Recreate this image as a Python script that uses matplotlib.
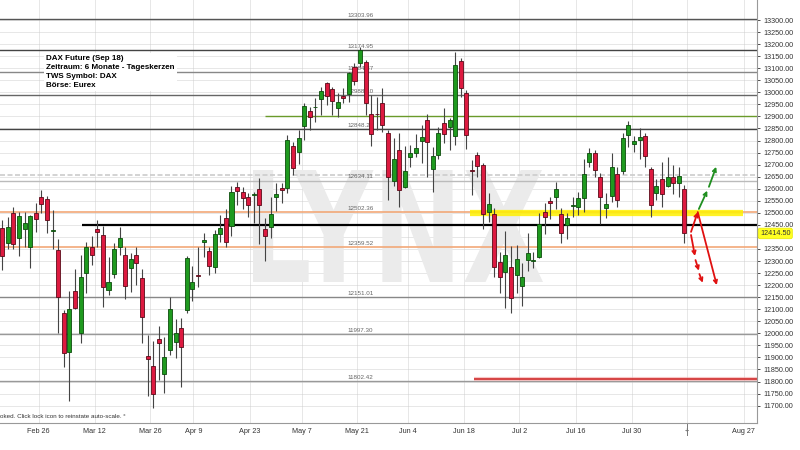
import numpy as np
import matplotlib
matplotlib.use("Agg")
import matplotlib.pyplot as plt
from matplotlib.textpath import TextPath
from matplotlib.font_manager import FontProperties
from matplotlib.patches import PathPatch
from matplotlib.transforms import Affine2D, blended_transform_factory

plt.rcParams["font.family"] = ["Liberation Sans", "DejaVu Sans"]

# daily candles, DAX future Sep 18
opens = [12436, 12373, 12501, 12394, 12434, 12360, 12501, 12564, 12556, 12425,
         12346, 12083, 11924, 12177, 12000, 12249, 12357, 12433, 12409, 12180,
         12246, 12360, 12325, 12270, 12325, 12228, 11907, 11864, 11975, 11830,
         11931, 11965, 12021, 12097, 12182, 12239, 12377, 12341, 12277, 12411,
         12480, 12445, 12606, 12588, 12564, 12574, 12598, 12431, 12440, 12564,
         12602, 12602, 12777, 12754, 12860, 12922, 12937, 12972, 13037, 13012,
         12934, 12985, 12993, 13106, 13123, 13127, 12908, 12910, 12957, 12830,
         12633, 12761, 12606, 12730, 12750, 12799, 12885, 12680, 12740, 12874,
         12855, 12819, 13131, 12996, 12675, 12740, 12698, 12505, 12494, 12297,
         12256, 12274, 12242, 12198, 12304, 12300, 12315, 12505, 12550, 12567,
         12495, 12450, 12528, 12526, 12560, 12709, 12747, 12647, 12519, 12570,
         12661, 12675, 12823, 12784, 12802, 12819, 12680, 12581, 12639, 12611,
         12647, 12622, 12598]
highs = [12470, 12484, 12523, 12505, 12505, 12491, 12542, 12595, 12570, 12512,
         12390, 12097, 12177, 12268, 12325, 12380, 12404, 12470, 12445, 12318,
         12373, 12443, 12357, 12332, 12357, 12266, 11993, 11970, 12030, 11986,
         12152, 12058, 12065, 12321, 12279, 12360, 12415, 12360, 12429, 12491,
         12514, 12611, 12629, 12609, 12584, 12588, 12643, 12477, 12567, 12622,
         12622, 12823, 12795, 12844, 12954, 12938, 12975, 13023, 13044, 13023,
         12999, 13017, 13086, 13120, 13187, 13134, 12989, 12982, 13017, 12844,
         12809, 12830, 12777, 12781, 12826, 12864, 12908, 12775, 12855, 12934,
         12892, 13169, 13141, 13010, 12719, 12754, 12705, 12584, 12519, 12339,
         12426, 12363, 12367, 12293, 12415, 12339, 12498, 12542, 12567, 12629,
         12519, 12501, 12567, 12588, 12722, 12768, 12761, 12664, 12584, 12747,
         12692, 12830, 12882, 12819, 12850, 12830, 12692, 12639, 12712, 12730,
         12698, 12692, 12615]
lows = [12263, 12348, 12348, 12321, 12359, 12270, 12422, 12498, 12415, 12351,
        12000, 11862, 11721, 12099, 11958, 12169, 12283, 12357, 12110, 12159,
        12228, 12325, 12141, 12173, 12200, 11958, 11740, 11689, 11806, 11754,
        11910, 11896, 11776, 12083, 12135, 12193, 12318, 12242, 12249, 12380,
        12360, 12404, 12532, 12515, 12484, 12456, 12371, 12301, 12394, 12509,
        12542, 12584, 12657, 12701, 12802, 12844, 12878, 12906, 12947, 12906,
        12899, 12954, 12961, 13030, 13106, 12906, 12777, 12844, 12837, 12553,
        12611, 12523, 12602, 12689, 12730, 12705, 12650, 12588, 12722, 12791,
        12761, 12781, 12982, 12763, 12574, 12650, 12432, 12463, 12235, 12169,
        12104, 12086, 12166, 12113, 12260, 12270, 12311, 12412, 12473, 12515,
        12373, 12390, 12481, 12491, 12505, 12689, 12650, 12454, 12477, 12546,
        12523, 12661, 12775, 12754, 12722, 12692, 12484, 12553, 12526, 12606,
        12578, 12567, 12376]
closes = [12321, 12443, 12371, 12487, 12459, 12487, 12473, 12535, 12470, 12429,
          12152, 11917, 12102, 12105, 12235, 12357, 12325, 12422, 12193, 12212,
          12350, 12397, 12198, 12307, 12293, 12069, 11892, 11747, 11961, 11903,
          12102, 12003, 11945, 12311, 12212, 12236, 12387, 12281, 12411, 12436,
          12380, 12588, 12591, 12560, 12532, 12580, 12532, 12404, 12494, 12578,
          12595, 12802, 12685, 12809, 12943, 12899, 12938, 13005, 12985, 12964,
          12961, 12976, 13082, 13048, 13175, 12957, 12827, 12908, 12864, 12647,
          12722, 12595, 12675, 12750, 12770, 12813, 12795, 12736, 12830, 12827,
          12885, 13113, 13017, 12823, 12672, 12694, 12495, 12537, 12274, 12233,
          12325, 12145, 12307, 12233, 12332, 12303, 12454, 12481, 12542, 12598,
          12415, 12477, 12530, 12560, 12661, 12747, 12678, 12564, 12537, 12692,
          12553, 12809, 12864, 12799, 12813, 12736, 12532, 12611, 12578, 12650,
          12622, 12653, 12414.5]

tick_pos = [6.5, 16.5, 26.4, 34.2, 44.3, 53.6, 63.5, 72.5, 82.5, 92.5, 102.6, 112.6, 122.5, 132.6]
tick_labels = ["Feb 26", "Mar 12", "Mar 26", "Apr 9", "Apr 23", "May 7", "May 21",
               "Jun 4", "Jun 18", "Jul 2", "Jul 16", "Jul 30", "+", "Aug 27"]

levels = [13303.96, 13174.95, 13084.87, 12988.10, 12848.21, 12634.11,
          12502.36, 12359.52, 12151.01, 11997.30, 11802.42]
level_colors = ["#555555", "#444444", "#888888", "#666666", "#444444", "#bbbbbb",
                "#f2a878", "#f2a878", "#888888", "#999999", "#999999"]

info_lines = ["DAX Future (Sep 18)", "Zeitraum: 6 Monate - Tageskerzen",
              "TWS Symbol: DAX", "Börse: Eurex"]
last_price = 12414.50

fig = plt.figure(figsize=(8, 4.5), dpi=100)
ax = fig.add_axes([0, 27 / 450, 757 / 800, 423 / 450])
ax.set_xlim(-0.41, 135.0)
ax.set_ylim(11628, 13383)

# grid and axes
ax.set_axisbelow(True)
yt = np.arange(11700, 13301, 50)
ax.set_yticks(yt)
# the 12400 label sits under the last-price tag
ax.set_yticklabels(["" if v == 12400 else f"{v:.2f}" for v in yt])
ax.set_xticks(tick_pos)
ax.set_xticklabels(tick_labels)
ax.grid(True, linestyle=(0, (1.2, 1.2)), color="#c8c8c8", linewidth=0.6)
ax.yaxis.tick_right()
ax.tick_params(axis="y", labelsize=5.2, colors="#333333", length=2.5, width=0.6, pad=2)
ax.tick_params(axis="x", labelsize=5.2, colors="#333333", length=0, pad=3.5)
for t in ax.yaxis.get_ticklines():
    t.set_color("#888888")
for s in ("top", "left"):
    ax.spines[s].set_visible(False)
for s in ("right", "bottom"):
    ax.spines[s].set_color("#999999")
    ax.spines[s].set_linewidth(0.8)
# cursor mark under the "+" tick
ax.plot([122.5, 122.5], [0, -12 / 423], color="#777777", lw=0.7,
        transform=blended_transform_factory(ax.transData, ax.transAxes), clip_on=False)

# LYNX watermark
tp = TextPath((0, 0), "LYNX", prop=FontProperties(family="DejaVu Sans", weight="bold"), size=1)
ext = tp.get_extents()
x0, x1 = 253 / 757, 543 / 757
y0, y1 = 1 - 282 / 423, 1 - 170 / 423
tr = Affine2D().translate(-ext.x0, -ext.y0).scale((x1 - x0) / ext.width, (y1 - y0) / ext.height).translate(x0, y0)
ax.add_patch(PathPatch(tr.transform_path(tp), transform=ax.transAxes, fc="#ebebeb", ec="none", zorder=0.8))

# horizontal level lines with small labels
xmin, xmax = ax.get_xlim()
for lv, col in zip(levels, level_colors):
    lw = 1.2 if col.startswith("#f2") else 1.0
    ax.axhline(lv, color=col, lw=lw, zorder=1.5)
    ax.text(61.7, lv + 9, f"{lv:.2f}", fontsize=4.5, color="#666666", zorder=1.6)
ax.axhline(12657, color="#cccccc", lw=1.2, ls=(0, (3, 1.5)), zorder=1.4)
ax.hlines(12900, 47, xmax, color="#6a9a2a", lw=1.0, zorder=1.5)
ax.hlines(12450, 14.3, xmax, color="black", lw=1.6, zorder=1.6)
ax.hlines(12500, 83.7, 132.5, color="#fff000", lw=4.5, alpha=0.85, zorder=1.55)
ax.hlines(11812, 84.4, xmax, color="#f4a0a0", lw=3.0, alpha=0.6, zorder=1.5)
ax.hlines(11812, 84.4, xmax, color="#cc2020", lw=1.1, zorder=1.6)

# candles
idx = np.arange(len(opens))
o = np.array(opens, dtype=float)
c = np.array(closes, dtype=float)
up = c >= o
ax.vlines(idx, lows, highs, color="#444444", lw=0.8, zorder=2)
body = np.maximum(np.abs(c - o), 4)
bottom = np.minimum(o, c)
ax.bar(idx[up], body[up], bottom=bottom[up], width=0.72, color="#1f9a1f",
       edgecolor="#0c4d0c", linewidth=0.6, zorder=3)
ax.bar(idx[~up], body[~up], bottom=bottom[~up], width=0.72, color="#dd1a40",
       edgecolor="#5a0a18", linewidth=0.6, zorder=3)


# scenario arrows
def arrow(p, q, col):
    ax.annotate("", xy=q, xytext=p, zorder=5,
                arrowprops=dict(arrowstyle="->", color=col, lw=1.3,
                                mutation_scale=6, shrinkA=0, shrinkB=0))


arrow((124.6, 12516), (126.1, 12592), "#1f8f1f")
arrow((126.4, 12608), (127.7, 12691), "#1f8f1f")
arrow((123.2, 12421), (124.4, 12503), "#e01010")
arrow((124.4, 12503), (127.8, 12200), "#e01010")
arrow((123.2, 12408), (123.9, 12321), "#e01010")
arrow((124.0, 12304), (124.6, 12260), "#e01010")
arrow((124.7, 12246), (125.3, 12210), "#e01010")

# info box
ax.text(46 / 757, 1 - 55 / 423, "\n".join(info_lines), transform=ax.transAxes,
        fontsize=5.8, fontweight="bold", va="top", ha="left", linespacing=1.4,
        bbox=dict(fc="white", ec="none", pad=1.5), zorder=4)

# last price tag
ax.text(1.004, last_price, f"{last_price:.2f}",
        transform=blended_transform_factory(ax.transAxes, ax.transData),
        fontsize=5.2, color="#333333", va="center", ha="left", clip_on=False,
        bbox=dict(boxstyle="round,pad=0.25", fc="#ffff22", ec="#e8e800", lw=0.5), zorder=6)

ax.text(0.0, 4 / 423, "oked. Click lock icon to reinstate auto-scale. \u02e3", transform=ax.transAxes,
        fontsize=4.5, color="#333333", va="bottom", ha="left")

fig.savefig("out.png", dpi=100)
